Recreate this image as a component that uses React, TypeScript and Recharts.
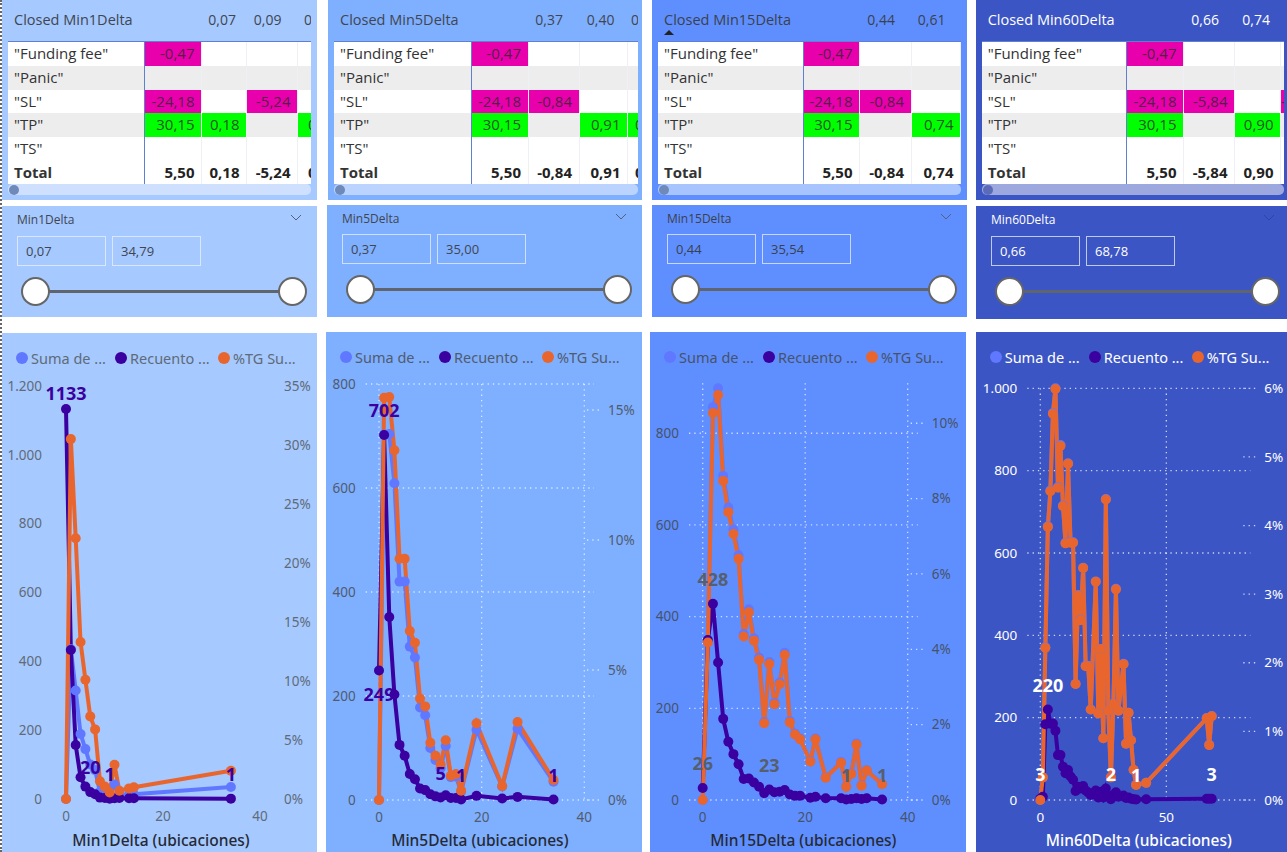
import React from 'react';
import { LineChart, Line, XAxis, YAxis, CartesianGrid, Legend } from 'recharts';

const seriesNames = ['Suma de ...', 'Recuento ...', '%TG Su...'];
const rowNames = ['"Funding fee"', '"Panic"', '"SL"', '"TP"', '"TS"', 'Total'];

// chart values
const min1X = [0, 1, 2, 3, 4, 5, 6, 7, 8, 9, 10, 11, 13, 14, 34];
const min1Suma = [0, 435, 315, 189, 145, 100, 84, 21, 15, 8, 42, 10, 13, 14, 35];
const min1Recuento = [1133, 433, 157, 63, 36, 20, 14, 4, 3, 1, 2, 3, 2, 2, 1];
const min1Pct = [0, 30.5, 22.1, 13.3, 10.1, 7, 5.9, 1.5, 1.05, 0.55, 2.9, 0.7, 0.9, 1, 2.4];
const min1Labels = [0, 5, 9, 34];

const min5X = [0, 1, 2, 3, 4, 5, 6, 7, 8, 9, 10, 11, 12, 13, 14, 15, 16, 19, 24, 27, 34];
const min5Suma = [0, 703, 704, 609, 420, 420, 295, 274, 178, 163, 100, 77, 61, 104, 44, 45, 16, 135, 26, 137, 35];
const min5Recuento = [249, 702, 352, 203, 106, 85, 50, 40, 22, 19, 11, 7, 5, 9, 4, 4, 1, 8, 3, 6, 1];
const min5Pct = [0, 15.47, 15.5, 13.45, 9.28, 9.28, 6.5, 6.05, 3.9, 3.6, 2.2, 1.7, 1.37, 2.3, 0.93, 1, 0.36, 2.95, 0.54, 3, 0.77];
const min5Labels = [0, 1, 12, 16, 34];

const min15X = [0, 1, 2, 3, 4, 5, 6, 7, 8, 9, 10, 11, 12, 13, 14, 15, 16, 17, 18, 19, 21, 22, 24, 27, 28, 29, 30, 31, 32, 35];
const min15Suma = [0, 349, 857, 898, 707, 638, 590, 534, 362, 416, 353, 311, 170, 301, 212, 256, 321, 172, 145, 134, 85, 134, 49, 83, 29, 58, 123, 32, 65, 35];
const min15Recuento = [26, 349, 428, 300, 177, 127, 100, 78, 46, 47, 38, 29, 15, 23, 17, 18, 22, 12, 9, 9, 5, 7, 4, 4, 1, 2, 4, 2, 4, 1];
const min15Pct = [0, 4.18, 10.27, 10.75, 8.47, 7.64, 7.06, 6.4, 4.34, 4.98, 4.23, 3.72, 2.04, 3.61, 2.54, 3.07, 3.85, 2.06, 1.74, 1.61, 1.02, 1.61, 0.59, 0.99, 0.35, 0.69, 1.47, 0.38, 0.78, 0.42];
const min15Labels = [0, 2, 13, 28, 35];

const min60X = [0, 1, 2, 3, 4, 5, 6, 7, 8, 9, 10, 11, 12, 13, 14, 15, 16, 17, 18, 19, 20, 22, 23, 24, 25, 26, 27, 28, 29, 30, 31, 33, 34, 35, 36, 37, 38, 42, 66, 67, 68];
const min60Suma = [0, 55, 371, 665, 752, 940, 1000, 760, 862, 715, 625, 818, 626, 626, 282, 498, 438, 564, 326, 326, 220, 531, 210, 367, 150, 731, 217, 55, 234, 513, 217, 331, 137, 212, 145, 73, 37, 42, 199, 134, 204];
const min60Recuento = [3, 8, 184, 220, 185, 186, 168, 109, 109, 81, 65, 73, 57, 49, 22, 32, 28, 34, 23, 18, 12, 23, 6, 20, 6, 28, 9, 2, 12, 19, 8, 11, 5, 6, 3, 2, 1, 2, 3, 3, 3];
const min60Pct = [0, 0.33, 2.22, 3.98, 4.5, 5.63, 5.99, 4.55, 5.16, 4.28, 3.74, 4.9, 3.75, 3.75, 1.69, 2.98, 2.62, 3.38, 1.95, 1.95, 1.32, 3.18, 1.26, 2.2, 0.9, 4.38, 1.3, 0.33, 1.4, 3.07, 1.3, 1.98, 0.82, 1.27, 0.87, 0.44, 0.22, 0.25, 1.19, 0.8, 1.22];
const min60Labels = [0, 3, 28, 38, 68];

// table values, the last column is cut off in the picture so only its first digit is kept
const min1Cells = [['-0,47', '', '', ''], ['', '', '', ''], ['-24,18', '', '-5,24', ''], ['30,15', '0,18', '', '0'], ['', '', '', ''], ['5,50', '0,18', '-5,24', '0']];
const min5Cells = [['-0,47', '', '', ''], ['', '', '', ''], ['-24,18', '-0,84', '', ''], ['30,15', '', '0,91', '0'], ['', '', '', ''], ['5,50', '-0,84', '0,91', '0']];
const min15Cells = [['-0,47', '', ''], ['', '', ''], ['-24,18', '-0,84', ''], ['30,15', '', '0,74'], ['', '', ''], ['5,50', '-0,84', '0,74']];
const min60Cells = [['-0,47', '', '', ''], ['', '', '', ''], ['-24,18', '-5,84', '', '-'], ['30,15', '', '0,90', ''], ['', '', '', ''], ['5,50', '-5,84', '0,90', '']];

const SANS = '"Open Sans", sans-serif';
const AXIS_FONT = '"Noto Sans", sans-serif';
const SUMA = '#6078FF';
const RECUENTO = '#3A00A0';
const TG = '#E8662E';

const columns = [
  {
    name: 'Min1Delta', bg: '#A6C9FF', text: '#3F4650', muted: '#5F6B78', labelColor: '#3A00A0', title: '#252A34', grid: null,
    top: { x: 2, w: 315 }, tableX: 8, tableW: 303, cols: [136, 58, 45, 51, 26], head: [['0,07', 236], ['0,09', 281.5], ['0', 312]], scroll: '#CFE0FF',
    slicer: { x: 2, y: 206, w: 315, h: 111, from: '0,07', to: '34,79', box1: 17, box2: 112, boxY: 236, thumb1: 35.5, thumb2: 292, thumbY: 291 },
    chart: { x: 2, y: 333, w: 315, axisL: 50, axisR: 47, padL: 14, padR: 10, top: 386, bottom: 799, xDomain: [0, 40], xTicks: [0, 20, 40], left: [0, 1200], leftTicks: [0, 200, 400, 600, 800, 1000, 1200], right: [0, 35], rightTicks: [0, 5, 10, 15, 20, 25, 30, 35] },
    xs: min1X, suma: min1Suma, recuento: min1Recuento, pct: min1Pct, labels: min1Labels, cells: min1Cells, lift: { 0: 15 } as Record<number, number>,
  },
  {
    name: 'Min5Delta', bg: '#7FAFFF', text: '#3F4650', muted: '#505C6E', labelColor: '#3A00A0', title: '#252A34', grid: 'rgba(255,255,255,0.7)',
    top: { x: 328, w: 314 }, tableX: 334, tableW: 304, cols: [137, 57.5, 51, 48.5, 23], head: [['0,37', 563], ['0,40', 614.5], ['0', 639]], scroll: '#BAD3FF',
    slicer: { x: 327, y: 205, w: 315, h: 112, from: '0,37', to: '35,00', box1: 342, box2: 437, boxY: 234, thumb1: 360, thumb2: 617, thumbY: 289 },
    chart: { x: 326, y: 332, w: 316, axisL: 39.7, axisR: 48, padL: 13.3, padR: 9.7, top: 384, bottom: 800, xDomain: [0, 40], xTicks: [0, 20, 40], left: [0, 800], leftTicks: [0, 200, 400, 600, 800], right: [0, 16], rightTicks: [0, 5, 10, 15] },
    xs: min5X, suma: min5Suma, recuento: min5Recuento, pct: min5Pct, labels: min5Labels, cells: min5Cells, lift: { 0: -24 } as Record<number, number>,
  },
  {
    name: 'Min15Delta', bg: '#5F8FFF', text: '#3A414C', muted: '#46536A', labelColor: '#555F6E', title: '#252A34', grid: 'rgba(255,255,255,0.7)',
    top: { x: 652, w: 315 }, tableX: 658, tableW: 303, cols: [144.5, 57.5, 51.5, 49.5], head: [['0,44', 895], ['0,61', 945.5]], scroll: '#A8C4FF',
    slicer: { x: 652, y: 205, w: 315, h: 112, from: '0,44', to: '35,54', box1: 667, box2: 762, boxY: 234, thumb1: 685.5, thumb2: 942, thumbY: 289 },
    chart: { x: 650, y: 332, w: 316, axisL: 39, axisR: 48.3, padL: 13.7, padR: 10, top: 383.3, bottom: 800, xDomain: [0, 40], xTicks: [0, 20, 40], left: [0, 909], leftTicks: [0, 200, 400, 600, 800], right: [0, 11.06], rightTicks: [0, 2, 4, 6, 8, 10] },
    xs: min15X, suma: min15Suma, recuento: min15Recuento, pct: min15Pct, labels: min15Labels, cells: min15Cells, lift: {} as Record<number, number>,
  },
  {
    name: 'Min60Delta', bg: '#3C55C4', text: '#FFFFFF', muted: '#FFFFFF', labelColor: '#FFFFFF', title: '#FFFFFF', grid: 'rgba(255,255,255,0.75)',
    top: { x: 976, w: 311 }, tableX: 981.7, tableW: 302.3, cols: [144.7, 57.6, 51, 46, 3], head: [['0,66', 1219], ['0,74', 1270]], scroll: '#9DA8DF',
    slicer: { x: 975.5, y: 206, w: 311.5, h: 113, from: '0,66', to: '68,78', box1: 991, box2: 1086, boxY: 236, thumb1: 1009.5, thumb2: 1265, thumbY: 291 },
    chart: { x: 975.7, y: 332, w: 311.3, axisL: 51.3, axisR: 37, padL: 13, padR: 0, top: 388.3, bottom: 800, xDomain: [0, 83.3], xTicks: [0, 50], left: [0, 1000], leftTicks: [0, 200, 400, 600, 800, 1000], right: [0, 6], rightTicks: [0, 1, 2, 3, 4, 5, 6] },
    xs: min60X, suma: min60Suma, recuento: min60Recuento, pct: min60Pct, labels: min60Labels, cells: min60Cells, lift: {} as Record<number, number>,
  },
];

type Column = (typeof columns)[number];

const thousands = (v: number) => String(v).replace(/\B(?=(\d{3})+$)/g, '.');

function cellColor(value: string, rowIndex: number) {
  if (!value || rowIndex === 5) return undefined;
  return value.startsWith('-') ? '#E800AD' : '#00FF00';
}

function TopTable({ c }: { c: Column }) {
  const { top, tableX, tableW, cols } = c;
  const darkPanel = c.name === 'Min60Delta';
  return (
    <>
      <div style={{ position: 'absolute', left: top.x, top: 0, width: top.w, height: 200, background: c.bg }} />
      <div style={{ position: 'absolute', left: tableX + 6, top: 10, fontFamily: SANS, fontSize: 14.5, color: c.text, lineHeight: '20px', whiteSpace: 'nowrap' }}>Closed {c.name}</div>
      {c.name === 'Min15Delta' && <div style={{ position: 'absolute', left: 664, top: 30, width: 0, height: 0, borderLeft: '5px solid transparent', borderRight: '5px solid transparent', borderBottom: '5px solid #222' }} />}
      <div style={{ position: 'absolute', left: top.x, top: 0, width: tableX + tableW - top.x, height: 40, overflow: 'hidden' }}>
        {c.head.map(([v, right]) => (
          <div key={String(v)} style={{ position: 'absolute', left: (right as number) - 60 - top.x, width: 60, top: 10, textAlign: 'right', fontFamily: SANS, fontSize: 14, color: c.text, lineHeight: '20px' }}>{v}</div>
        ))}
      </div>
      <div style={{ position: 'absolute', left: tableX, top: 41, width: tableW, height: 143, overflow: 'hidden', background: '#fff', borderTop: '1px solid #5F7FD0', boxSizing: 'border-box' }}>
        {rowNames.map((row, r) => {
          let left = 0;
          return (
            <div key={row} style={{ position: 'absolute', left: 0, top: r * 23.8, width: 400, height: 23.8, background: r === 1 || r === 3 ? '#EDEDED' : '#fff', fontFamily: SANS, fontSize: 15, lineHeight: '23.8px', color: '#333' }}>
              <div style={{ position: 'absolute', left: 6, fontWeight: r === 5 ? 700 : 400 }}>{row}</div>
              {cols.slice(1).map((w, i) => {
                const v = c.cells[r][i] ?? '';
                const el = (
                  <div key={i} style={{ position: 'absolute', left: left + cols[0], width: w, height: 23.8, overflow: 'hidden', background: cellColor(v, r), textAlign: 'right', boxSizing: 'border-box', paddingRight: 6.5, color: r === 5 ? '#222' : 'rgba(40,40,40,0.8)', fontWeight: r === 5 ? 700 : 400, borderRight: '1px solid #EEF0F6' }}>{v}</div>
                );
                left += w;
                return el;
              })}
            </div>
          );
        })}
        <div style={{ position: 'absolute', left: cols[0], top: 0, width: 1, height: 143, background: '#5F7FD0' }} />
      </div>
      <div style={{ position: 'absolute', left: tableX, top: 184, width: tableW, height: 11, borderRadius: 5, background: c.scroll }}>
        <div style={{ position: 'absolute', left: 1, top: 0.5, width: 10, height: 10, borderRadius: 5, background: darkPanel ? '#5B6BB8' : '#6F89B8' }} />
      </div>
    </>
  );
}

function Slicer({ c }: { c: Column }) {
  const s = c.slicer;
  const box = (x: number, v: string) => (
    <div style={{ position: 'absolute', left: x, top: s.boxY, width: 89, height: 30, boxSizing: 'border-box', border: '1px solid rgba(235,240,250,0.75)', fontFamily: SANS, fontSize: 13, lineHeight: '29px', color: c.text, paddingLeft: 8 }}>{v}</div>
  );
  const thumb = (x: number) => (
    <div style={{ position: 'absolute', left: x - 14.5, top: s.thumbY - 14.5, width: 29, height: 29, boxSizing: 'border-box', borderRadius: '50%', background: '#fff', border: '2px solid #666' }} />
  );
  return (
    <>
      <div style={{ position: 'absolute', left: s.x, top: s.y, width: s.w, height: s.h, background: c.bg }} />
      <div style={{ position: 'absolute', left: s.box1, top: s.y + 6, fontFamily: SANS, fontSize: 12, lineHeight: '15px', color: c.text }}>{c.name}</div>
      <svg style={{ position: 'absolute', left: s.thumb2 - 2, top: s.y + 8 }} width="12" height="8">
        <polyline points="1,1 6,6 11,1" fill="none" stroke={c.name === 'Min60Delta' ? '#2F44A8' : '#55617A'} strokeWidth="1" />
      </svg>
      {box(s.box1, s.from)}
      {box(s.box2, s.to)}
      <div style={{ position: 'absolute', left: s.thumb1, top: s.thumbY - 1.5, width: s.thumb2 - s.thumb1, height: 3, background: '#60646C' }} />
      {thumb(s.thumb1)}
      {thumb(s.thumb2)}
    </>
  );
}

function DeltaChart({ c }: { c: Column }) {
  const g = c.chart;
  const rows = c.xs.map((x, i) => ({ x, suma: c.suma[i], recuento: c.recuento[i], pct: c.pct[i] }));
  const tickStyle = { fill: c.muted, fontSize: 13.5, fontFamily: AXIS_FONT };

  const legend = () => (
    <div style={{ position: 'relative', width: g.w, height: 50 }}>
      {seriesNames.map((name, i) => (
        <div key={name}>
          <div style={{ position: 'absolute', left: [20, 119, 222][i] - 6, top: 19, width: 12, height: 12, borderRadius: '50%', background: [SUMA, RECUENTO, TG][i] }} />
          <div style={{ position: 'absolute', left: [29, 128, 231][i], top: 15, fontFamily: AXIS_FONT, fontSize: 14.5, lineHeight: '20px', color: c.muted, whiteSpace: 'nowrap' }}>{name}</div>
        </div>
      ))}
    </div>
  );

  const rightTick = (p: any) => (
    <g>
      {c.grid && <line x1={p.x - 21} x2={p.x - 8} y1={p.y} y2={p.y} stroke={c.grid} strokeWidth={1.3} strokeDasharray="1.3 4" />}
      <text x={p.x} y={p.y} dy="0.35em" textAnchor="start" fill={c.muted} fontSize={13.5} fontFamily={AXIS_FONT}>{p.payload.value}%</text>
    </g>
  );

  const labelDot = (p: any) => {
    if (!c.labels.includes(p.payload.x)) return <g key={p.index} />;
    const lift = c.lift[p.payload.x] ?? 24;
    return (
      <text key={p.index} x={p.cx} y={p.cy - lift} dy="0.35em" textAnchor="middle" fill={c.labelColor} fontFamily={AXIS_FONT} fontWeight={700} fontSize={18}>{p.payload.recuento}</text>
    );
  };

  return (
    <div style={{ position: 'absolute', left: g.x, top: g.y, width: g.w, height: 852 - g.y, background: c.bg }}>
      <LineChart width={g.w} height={852 - g.y} data={rows} margin={{ top: g.top - g.y, right: 0, bottom: 0, left: 0 }}>
        {c.grid && <CartesianGrid yAxisId="left" stroke={c.grid} strokeWidth={1.3} strokeDasharray="1.3 4" syncWithTicks />}
        <XAxis
          type="number" dataKey="x" domain={g.xDomain} ticks={g.xTicks} interval={0}
          height={852 - g.bottom} padding={{ left: g.padL, right: g.padR }}
          axisLine={false} tickLine={false} tickSize={0} tickMargin={12} tick={tickStyle}
          label={{ value: `${c.name} (ubicaciones)`, position: 'insideBottom', offset: 6, style: { fontFamily: AXIS_FONT, fontSize: 15.5, fontWeight: 500, fill: c.title } }}
        />
        <YAxis
          yAxisId="left" width={g.axisL} domain={g.left} ticks={g.leftTicks} interval={0}
          axisLine={false} tickLine={false} tickSize={0} tickMargin={10} tick={tickStyle} tickFormatter={thousands}
        />
        <YAxis
          yAxisId="right" orientation="right" width={g.axisR} domain={g.right} ticks={g.rightTicks} interval={0}
          axisLine={false} tickLine={false} tickSize={0} tickMargin={14} tick={rightTick}
        />
        <Legend verticalAlign="middle" wrapperStyle={{ top: 0, left: 0, width: g.w }} content={legend} />
        <Line yAxisId="left" dataKey="suma" name={seriesNames[0]} stroke={SUMA} strokeWidth={4} dot={{ r: 5, fill: SUMA, stroke: SUMA, strokeWidth: 0 }} isAnimationActive={false} />
        <Line yAxisId="left" dataKey="recuento" name={seriesNames[1]} stroke={RECUENTO} strokeWidth={4} dot={{ r: 5, fill: RECUENTO, stroke: RECUENTO, strokeWidth: 0 }} isAnimationActive={false} />
        <Line yAxisId="right" dataKey="pct" name={seriesNames[2]} stroke={TG} strokeWidth={4} dot={{ r: 5, fill: TG, stroke: TG, strokeWidth: 0 }} isAnimationActive={false} />
        <Line yAxisId="left" dataKey="recuento" stroke="none" legendType="none" dot={labelDot} isAnimationActive={false} />
      </LineChart>
    </div>
  );
}

export default function App() {
  return (
    <div style={{ position: 'absolute', left: 0, top: 0, width: 1287, height: 852, overflow: 'hidden', background: '#fff' }}>
      {columns.map((c) => (
        <React.Fragment key={c.name}>
          <TopTable c={c} />
          <Slicer c={c} />
          <DeltaChart c={c} />
        </React.Fragment>
      ))}
      <div style={{ position: 'absolute', left: 0, top: 0, height: 852, borderLeft: '2px dotted #666' }} />
    </div>
  );
}
